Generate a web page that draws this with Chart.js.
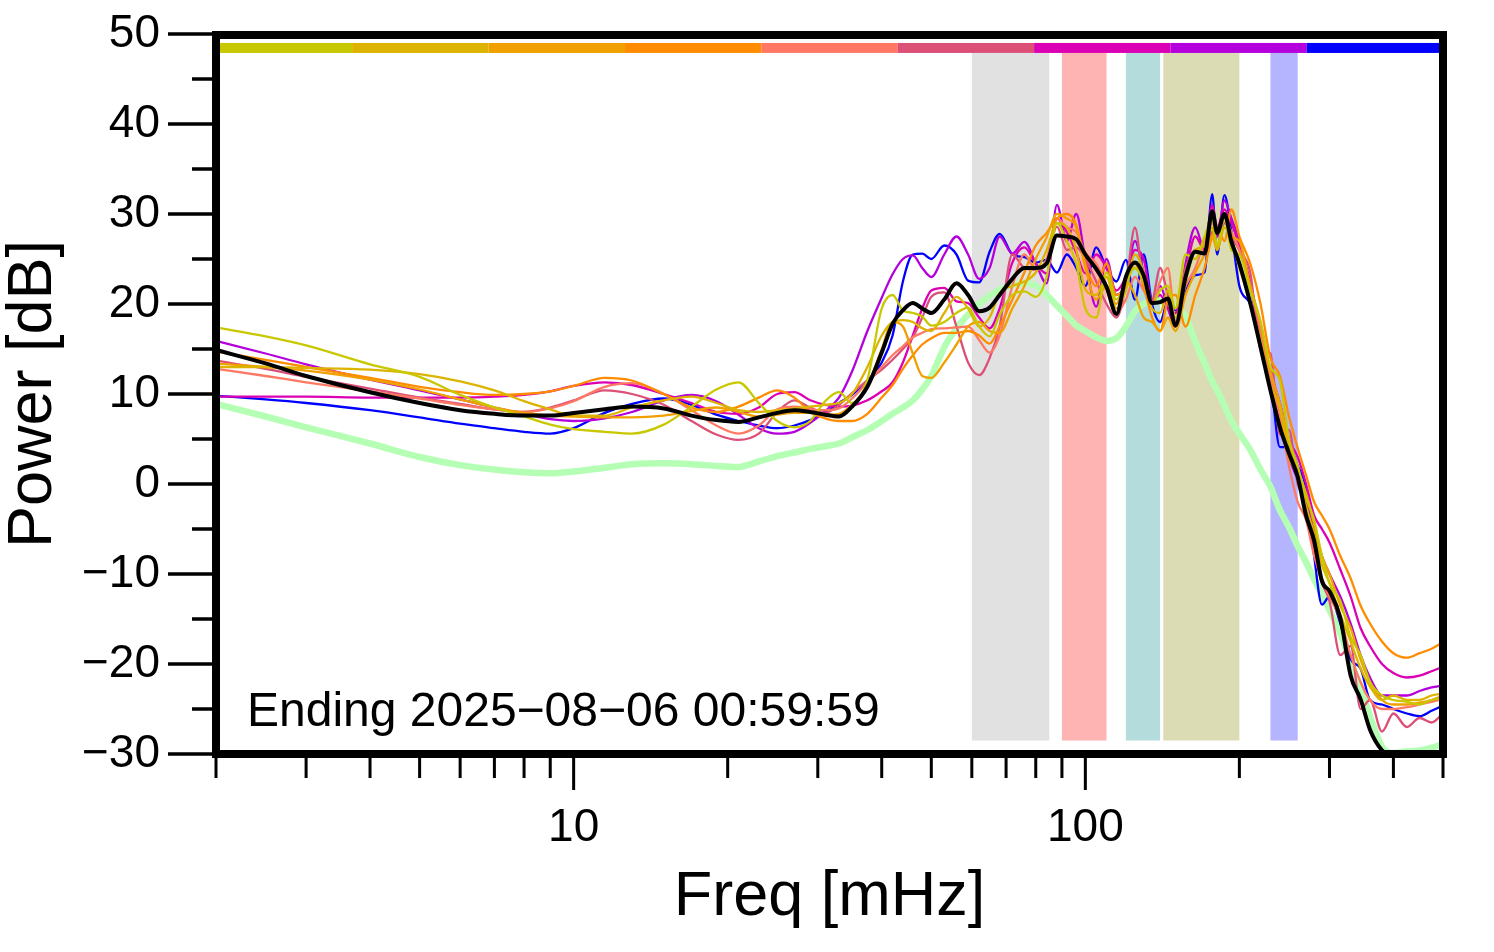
<!DOCTYPE html>
<html>
<head>
<meta charset="utf-8">
<script src="https://cdn.jsdelivr.net/npm/chart.js@4.4.1/dist/chart.umd.min.js"></script>
<style>
  html, body { margin: 0; padding: 0; background: #fff; }
  #wrap { width: 1494px; height: 952px; }
</style>
</head>
<body>
<div id="wrap"><canvas id="psd" width="1494" height="952"></canvas></div>
<script>
// frequency grid [mHz]
const freqs = [2, 2.5, 3, 4, 5, 6, 7, 8, 9, 10,
  11.5, 13, 15, 17, 19, 21, 23, 25, 27, 29, 31, 33, 35, 37.5, 40,
  42, 44, 46, 48, 50, 53, 56, 59, 62, 65, 68, 72, 76, 80, 84, 88, 92, 96, 100,
  105, 110, 115, 120, 125, 130, 135, 140, 145, 150, 157, 164, 171, 177, 181, 187, 193, 200,
  210, 220, 230, 240, 250, 260, 270, 280, 290, 300, 315, 330, 345, 360, 380, 400, 425, 450, 475, 500];

// power [dB], one list per period
const pYellow = [17.4, 16.4, 15.4, 13.3, 11.9, 9.9, 8.5, 7.5, 6.6, 6.1,
  5.8, 5.6, 6.6, 8.6, 10.5, 11.3, 9.0, 7.0, 6.3, 7.0, 9.2, 10.2, 9.0, 11.6, 19.5,
  21.0, 19.3, 19.0, 18.6, 17.6, 18.0, 19.0, 19.6, 17.5, 16.4, 18.8, 21.0, 21.4, 20.8, 23.0, 29.0, 27.0, 24.5, 19.5,
  18.5, 23.5, 20.5, 22.5, 24.0, 22.5, 20.0, 21.5, 22.0, 19.5, 25.5, 25.0, 27.5, 29.5, 26.5, 29.5, 26.0, 25.5,
  21.5, 18.0, 13.0, 11.5, 5.0, 2.0, -1.5, -4.0, -8.0, -11.0, -13.0, -17.0, -19.0, -22.0, -23.5, -24.0, -24.2, -24.5, -24.0, -23.8];
const pGold = [13.0, 13.0, 12.9, 12.7, 12.2, 11.4, 10.4, 9.2, 8.3, 7.6,
  7.6, 8.5, 9.3, 9.7, 9.0, 8.2, 8.0, 8.2, 8.4, 8.6, 8.8, 9.0, 10.0, 13.0, 16.5,
  18.0, 18.2, 18.0, 17.3, 17.0, 19.0, 20.8, 19.5, 17.5, 18.5, 21.2, 22.0, 22.5, 23.5, 26.0, 29.0, 28.5, 26.0, 21.6,
  21.0, 23.0, 19.5, 21.5, 25.5, 23.5, 19.5, 19.0, 21.5, 18.5, 22.5, 26.0, 26.5, 28.5, 26.0, 28.5, 27.0, 24.0,
  20.0, 16.0, 11.0, 8.5, 3.0, 1.0, -2.5, -5.5, -9.0, -11.0, -14.5, -17.5, -20.5, -22.5, -24.0, -23.5, -24.0, -24.0, -23.5, -23.3];
const pAmber = [13.4, 13.0, 12.6, 11.6, 10.5, 9.4, 8.5, 7.9, 7.6, 7.5,
  7.4, 7.4, 7.6, 8.1, 8.5, 8.0, 7.5, 7.7, 7.9, 7.9, 7.7, 7.8, 8.8, 10.8, 15.0,
  18.0, 17.5, 14.5, 12.0, 11.8, 13.5, 15.5, 17.5, 18.0, 17.0, 16.8, 19.5, 22.0, 25.0, 27.4, 30.0, 29.5, 28.5, 24.0,
  20.5, 22.0, 20.0, 22.5, 21.0, 18.5, 18.0, 17.0, 18.5, 17.0, 21.0, 23.5, 25.5, 27.5, 26.0, 30.0, 27.5, 27.0,
  22.0, 18.0, 12.5, 9.0, 4.5, 1.5, -1.0, -4.5, -8.0, -10.0, -13.5, -16.0, -19.5, -22.0, -24.0, -24.5, -24.5, -24.3, -24.0, -23.5];
const pOrange = [14.7, 13.8, 13.0, 11.8, 10.8, 10.2, 9.9, 10.0, 10.3, 10.9,
  11.8, 11.5, 10.0, 8.5, 8.0, 8.6, 9.6, 10.4, 9.6, 8.0, 7.3, 7.0, 7.0, 7.8, 9.6,
  11.0, 12.8, 14.3, 15.5, 16.2, 16.8, 16.8, 17.0, 16.5, 15.6, 17.5, 20.5, 23.5, 26.5, 27.9, 29.5, 30.0, 28.8, 24.5,
  22.0, 24.5, 21.0, 22.0, 24.5, 22.0, 18.5, 17.0, 20.5, 21.0, 17.5, 21.0, 24.0, 27.5, 28.5, 27.0, 30.5, 27.5,
  24.5, 20.0, 14.0, 12.0, 7.5, 4.0, 1.0, -2.0, -3.5, -5.0, -8.0, -10.5, -13.5, -15.5, -17.5, -18.8, -19.3, -18.8, -18.3, -17.6];
const pSalmon = [12.8, 12.0, 11.3, 10.3, 9.5, 8.8, 8.3, 8.0, 8.4, 9.2,
  10.8, 11.2, 10.0, 8.2, 6.5, 5.6, 6.5, 8.3, 8.6, 8.3, 8.2, 8.4, 9.5, 11.3, 13.0,
  14.3, 15.3, 16.3, 16.8, 17.2, 17.3, 17.4, 17.5, 16.0, 14.6, 16.5, 22.0, 25.5, 23.8, 25.0, 29.5, 28.5, 28.0, 25.7,
  24.5, 22.0, 19.0, 20.5, 23.0, 21.5, 20.0, 22.5, 24.0, 18.0, 22.0, 24.0, 27.0, 29.0, 28.0, 29.5, 28.0, 26.0,
  22.0, 17.0, 12.0, 7.5, 2.0, -2.0, -4.0, -8.0, -10.5, -12.5, -15.0, -19.0, -22.0, -24.0, -25.0, -25.0, -24.8, -24.5, -24.2, -23.9];
const pRose = [13.7, 12.8, 11.9, 10.6, 9.6, 8.9, 8.3, 8.0, 8.5, 9.3,
  10.4, 10.0, 8.8, 7.0, 5.5, 4.9, 5.6, 8.0, 9.3, 8.5, 7.9, 8.8, 10.1, 11.5, 12.7,
  13.8, 15.0, 16.3, 18.5, 20.8, 21.3, 17.5, 13.5, 12.1, 14.0, 17.5, 25.5, 24.0, 23.8, 24.6, 28.6, 26.0, 26.3, 25.0,
  22.5, 20.0, 18.5, 22.0, 28.5, 22.0, 20.5, 24.0, 21.0, 19.5, 24.0, 26.0, 25.5, 28.0, 26.5, 29.0, 27.5, 26.0,
  23.5, 15.0, 14.5, 5.5, 6.0, 0.0, -2.0, -7.5, -11.0, -13.0, -19.0, -18.0, -25.0, -24.0, -27.5, -25.5, -27.0, -26.0, -26.5, -25.5];
const pMagenta = [9.7, 9.7, 9.7, 9.6, 9.6, 9.6, 9.7, 9.9, 10.3, 10.9,
  11.3, 11.0, 10.0, 9.0, 8.0, 7.8, 8.5, 10.0, 10.2, 9.3, 8.8, 8.6, 8.7, 9.3, 10.3,
  11.3, 13.5, 16.5, 19.5, 21.5, 21.8, 20.3, 20.1, 18.5, 17.3, 19.5, 24.6, 26.3, 24.5, 23.4, 29.5, 28.0, 25.7, 23.4,
  25.5, 24.0, 21.5, 23.0, 26.0, 25.0, 20.5, 21.0, 19.5, 19.0, 23.5, 27.5, 26.0, 31.0, 28.5, 30.5, 29.0, 26.5,
  22.5, 17.0, 12.5, 9.0, 5.0, 3.0, 0.0, -3.5, -5.0, -6.5, -9.5, -12.5, -16.0, -18.0, -20.0, -21.0, -21.5, -21.3, -20.8, -20.3];
const pPurple = [15.9, 14.5, 13.3, 11.6, 10.4, 9.4, 8.5, 7.8, 7.2, 7.0,
  7.3, 8.0, 9.3, 9.9, 9.2, 7.7, 6.2, 5.6, 5.8, 6.8, 8.1, 9.6, 12.5, 17.0, 20.7,
  23.3, 25.0, 25.4, 24.0, 23.0, 25.5, 27.5, 25.5, 22.8, 24.0, 27.5, 25.6, 26.9, 24.5, 22.3, 31.0, 27.0, 30.0, 25.0,
  19.7, 25.0, 21.0, 22.5, 27.0, 23.5, 20.0, 22.0, 19.5, 17.5, 24.5, 28.5, 26.0, 29.5, 27.5, 31.5, 29.5, 27.0,
  22.0, 16.0, 11.5, 7.5, 3.0, 0.5, -2.0, -5.0, -8.0, -10.0, -12.5, -15.5, -19.0, -21.5, -23.5, -23.5, -23.5, -23.0, -22.6, -22.4];
const pBlue = [9.8, 9.4, 9.0, 8.2, 7.4, 6.7, 6.2, 5.8, 5.6, 6.2,
  7.9, 8.9, 9.5, 8.8, 7.7, 7.0, 6.5, 6.2, 6.5, 7.1, 7.9, 9.0, 9.9, 11.5, 13.5,
  16.5, 22.5, 25.5, 25.6, 25.0, 26.5, 25.5, 22.6, 22.4, 25.8, 27.8, 25.5, 25.2, 24.6, 24.9, 23.5, 25.5, 24.0, 22.0,
  26.3, 24.0, 22.5, 24.9, 20.5, 25.5, 20.0, 18.0, 20.3, 19.3, 21.5, 23.2, 23.5, 32.2, 25.5, 32.1, 28.0, 22.0,
  20.0, 16.0, 11.8, 4.1, 4.1, 2.0, -0.5, -8.0, -13.4, -12.5, -15.5, -19.5, -20.5, -24.0, -24.5, -25.0, -25.5, -25.8, -25.2, -24.6];
const pMean = [14.9, 13.4, 12.0, 10.2, 9.0, 8.2, 7.8, 7.6, 7.6, 7.9,
  8.3, 8.6, 8.4, 7.6, 7.1, 6.9, 7.4, 7.9, 8.2, 8.0, 7.7, 7.5, 8.6, 10.8, 14.6,
  17.8, 19.3, 20.1, 19.5, 19.0, 20.5, 22.3, 21.0, 19.2, 19.6, 21.0, 22.8, 24.0, 24.0, 24.5, 27.6, 27.5, 27.2, 25.5,
  23.9, 21.9, 18.9, 23.0, 24.6, 23.2, 20.1, 20.2, 20.6, 17.6, 23.0, 25.8, 25.6, 30.3, 27.9, 30.0, 26.9, 24.5,
  20.1, 15.2, 10.4, 6.3, 3.4, 0.8, -3.5, -6.3, -10.8, -11.9, -14.9, -21.3, -23.9, -27.3, -29.6, -30.4, -31, -31, -31, -31];
const pReference = [8.9, 7.5, 6.3, 4.5, 3.0, 2.1, 1.6, 1.3, 1.2, 1.4,
  1.8, 2.2, 2.3, 2.2, 2.0, 1.9, 2.5, 3.1, 3.5, 3.9, 4.2, 4.5, 5.2, 6.0, 7.0,
  7.8, 8.5, 9.3, 10.5, 12.0, 15.2, 17.3, 18.8, 20.0, 20.9, 21.6, 22.1, 22.3, 22.0, 21.0, 19.8, 18.7, 17.6, 17.0,
  16.3, 15.9, 16.2, 17.5, 19.2, 20.0, 20.3, 20.3, 20.0, 19.6, 18.6, 15.8, 13.4, 11.4, 10.4, 8.7, 7.0, 5.6,
  3.8, 1.6, -0.3, -2.9, -4.8, -6.9, -8.7, -10.6, -12.3, -14.0, -16.6, -19.8, -22.6, -25.8, -29.2, -29.9, -29.7, -29.6, -29.3, -28.9];

const periodSeries = [pYellow, pGold, pAmber, pOrange, pSalmon, pRose, pMagenta, pPurple, pBlue];
const periodColors = ['#c8c800', '#dcb400', '#f0a000', '#ff8c00', '#ff7864', '#dc5078', '#dc00b4', '#b400dc', '#0000ff'];

// time ribbon along the top: one coloured segment per period
const ribbonEdges = [2, 3.69, 6.82, 12.6, 23.3, 43.0, 79.4, 146.6, 270.8, 500];

// shaded frequency bands [mHz]
const bandRanges = [[60, 85], [90, 110], [120, 140], [142, 200], [230, 260]];
const bandColors = ['#e1e1e1', '#ffb4b4', '#b4dcdc', '#dcdcb4', '#b4b4ff'];

const yMajor = [-30, -20, -10, 0, 10, 20, 30, 40, 50];
const yMinor = [-25, -15, -5, 5, 15, 25, 35, 45];
const xMajor = [10, 100];
const xMinor = [2, 3, 4, 5, 6, 7, 8, 9, 20, 30, 40, 50, 60, 70, 80, 90, 200, 300, 400, 500];

const stampText = 'Ending 2025\u221208\u221206 00:59:59';
const FONT = "'Liberation Sans', Arial, Helvetica, sans-serif";

const toPoints = vals => vals.map((v, i) => ({ x: freqs[i], y: v }));

const datasets = [];
datasets.push({ data: toPoints(pMean), borderColor: '#000000', borderWidth: 4, order: 0 });
periodSeries.forEach((s, i) => {
    datasets.push({ data: toPoints(s), borderColor: periodColors[i], borderWidth: 2.3, order: 1 + i });
});
datasets.push({ data: toPoints(pReference), borderColor: '#b4ffb4', borderWidth: 6.5, order: 20 });

const decorPlugin = {
    id: 'decor',
    beforeDatasetsDraw(chart) {
        const { ctx, scales: { x, y } } = chart;
        const top = y.getPixelForValue(47.9);
        const bot = y.getPixelForValue(-28.5);
        ctx.save();
        bandRanges.forEach(([f0, f1], i) => {
            const x0 = x.getPixelForValue(f0);
            const x1 = x.getPixelForValue(f1);
            ctx.fillStyle = bandColors[i];
            ctx.fillRect(x0, top, x1 - x0, bot - top);
        });
        ctx.restore();
    },
    afterDatasetsDraw(chart) {
        const { ctx, chartArea: a, scales: { x, y } } = chart;
        ctx.save();
        // ribbon
        const yc = y.getPixelForValue(48.45);
        for (let i = 0; i < periodColors.length; i++) {
            const x0 = x.getPixelForValue(ribbonEdges[i]);
            const x1 = x.getPixelForValue(ribbonEdges[i + 1]);
            ctx.fillStyle = periodColors[i];
            ctx.fillRect(x0, yc - 5, x1 - x0, 10);
        }
        // frame
        ctx.strokeStyle = '#000';
        ctx.lineWidth = 8;
        ctx.strokeRect(a.left, a.top + 1, a.right - a.left, a.bottom - a.top - 1);
        // ticks
        ctx.lineWidth = 3.5;
        ctx.beginPath();
        yMajor.forEach(v => { const p = y.getPixelForValue(v); ctx.moveTo(a.left - 48, p); ctx.lineTo(a.left, p); });
        yMinor.forEach(v => { const p = y.getPixelForValue(v); ctx.moveTo(a.left - 24, p); ctx.lineTo(a.left, p); });
        ctx.stroke();
        ctx.lineWidth = 3;
        ctx.beginPath();
        xMajor.forEach(v => { const p = x.getPixelForValue(v); ctx.moveTo(p, a.bottom); ctx.lineTo(p, a.bottom + 36); });
        xMinor.forEach(v => { const p = x.getPixelForValue(v); ctx.moveTo(p, a.bottom); ctx.lineTo(p, a.bottom + 24); });
        ctx.stroke();
        // time stamp
        ctx.fillStyle = '#000';
        ctx.font = '48px ' + FONT;
        ctx.textBaseline = 'alphabetic';
        ctx.textAlign = 'left';
        ctx.fillText(stampText, a.left + 31, a.bottom - 28);
        ctx.restore();
    }
};

new Chart(document.getElementById('psd'), {
    type: 'line',
    data: { datasets },
    options: {
        responsive: false,
        devicePixelRatio: 1,
        animation: false,
        layout: { padding: { top: 34, right: 51, left: 0, bottom: 0 } },
        elements: {
            point: { radius: 0 },
            line: { cubicInterpolationMode: 'monotone', borderCapStyle: 'round', borderJoinStyle: 'round' }
        },
        plugins: { legend: { display: false }, tooltip: { enabled: false } },
        scales: {
            x: {
                type: 'logarithmic',
                min: 2,
                max: 500,
                afterFit: s => { s.height = 198; s.paddingLeft = 0; s.paddingRight = 0; },
                grid: { display: false, drawTicks: false },
                border: { display: false },
                ticks: {
                    autoSkip: false,
                    maxRotation: 0,
                    padding: 47,
                    color: '#000',
                    font: { family: FONT, size: 46 },
                    callback: v => (v === 10 || v === 100) ? String(v) : ''
                },
                title: { display: true, text: 'Freq [mHz]', color: '#000', font: { family: FONT, size: 63 }, padding: { bottom: 17 } }
            },
            y: {
                min: -30,
                max: 50,
                afterFit: s => { s.width = 216; s.paddingTop = 0; s.paddingBottom = 0; },
                grid: { display: false, drawTicks: false },
                border: { display: false },
                ticks: {
                    stepSize: 10,
                    padding: 56,
                    color: '#000',
                    font: { family: FONT, size: 46 },
                    callback: v => v < 0 ? '\u2212' + Math.abs(v) : String(v)
                },
                title: { display: true, text: 'Power [dB]', color: '#000', font: { family: FONT, size: 63 }, padding: { top: -4 } }
            }
        }
    },
    plugins: [decorPlugin]
});
</script>
</body>
</html>
